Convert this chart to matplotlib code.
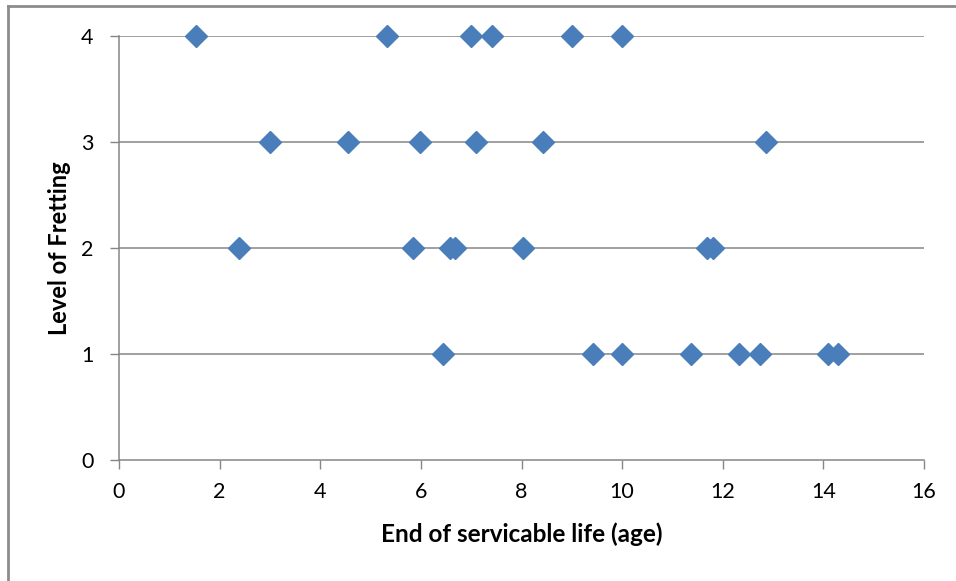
import matplotlib.pyplot as plt
from matplotlib.lines import Line2D

# end of servicable life (age) per fretting level
age_lvl4 = [1.54, 5.32, 6.99, 7.42, 9.00, 9.99]
age_lvl3 = [3.00, 4.55, 5.98, 7.10, 8.42, 12.85]
age_lvl2 = [2.38, 5.84, 6.58, 6.68, 8.03, 11.69, 11.81]
age_lvl1 = [6.43, 9.43, 9.99, 11.36, 12.32, 12.75, 14.09, 14.29]

ages = age_lvl4 + age_lvl3 + age_lvl2 + age_lvl1
levels = [4] * len(age_lvl4) + [3] * len(age_lvl3) + [2] * len(age_lvl2) + [1] * len(age_lvl1)

xticks = [0, 2, 4, 6, 8, 10, 12, 14, 16]
yticks = [0, 1, 2, 3, 4]

plt.rcParams['font.family'] = ['Lato', 'DejaVu Sans']

fig = plt.figure(figsize=(9.56, 5.81), dpi=100)
ax = fig.add_axes([119 / 956, 1 - 460 / 581, 805 / 956, 424 / 581])

grey = '#868686'
for y in yticks[1:]:
    ax.axhline(y, color=grey, lw=1.1, zorder=1)

ax.plot(ages, levels, 'D', ms=11.5, color='#4a7ebb', mec='#4a7ebb', zorder=3, clip_on=False)

ax.set_xlim(0, 16)
ax.set_ylim(0, 4)
ax.set_xticks(xticks)
ax.set_yticks(yticks)
ax.tick_params(colors=grey, labelcolor='black', labelsize=15.5, length=6.5, width=1, direction='out')
ax.tick_params(axis='x', pad=9)
ax.tick_params(axis='y', pad=12)

for s in ['top', 'right']:
    ax.spines[s].set_visible(False)
for s in ['left', 'bottom']:
    ax.spines[s].set_color(grey)
    ax.spines[s].set_linewidth(1.1)

ax.set_xlabel('End of servicable life (age)', fontsize=17.5, fontweight='bold', labelpad=15)
ax.set_ylabel('Level of Fretting', fontsize=17, fontweight='bold', labelpad=7)

# outer chart border (left and top edges)
fig.add_artist(Line2D([8 / 956, 8 / 956], [0, 1 - 6 / 581], transform=fig.transFigure, color='#8c8c8c', lw=2))
fig.add_artist(Line2D([8 / 956, 1], [1 - 6 / 581, 1 - 6 / 581], transform=fig.transFigure, color='#8c8c8c', lw=2))

fig.savefig('out.png', dpi=100)
